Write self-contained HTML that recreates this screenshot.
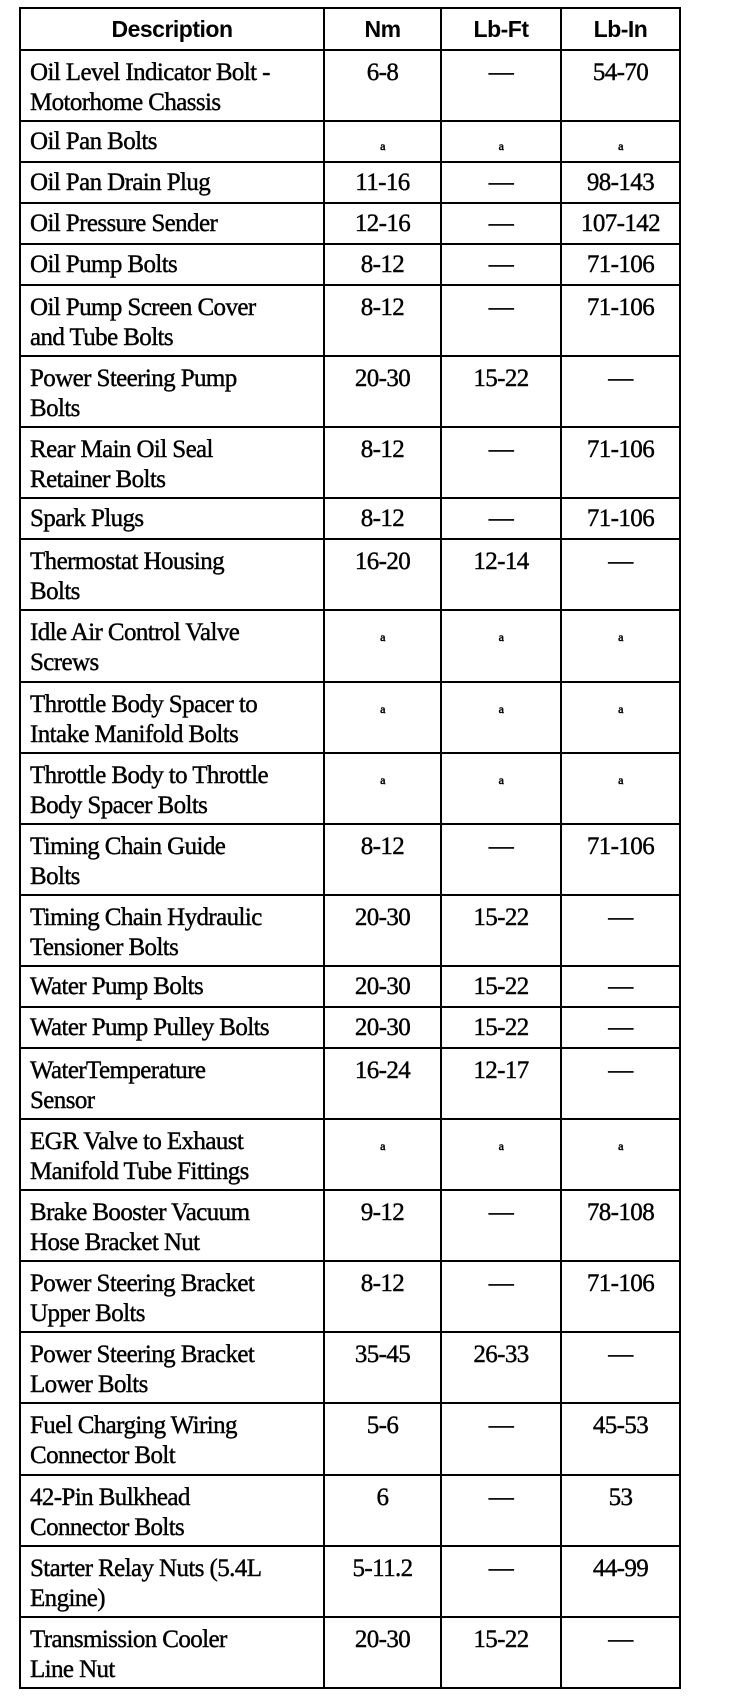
<!DOCTYPE html>
<html><head><meta charset="utf-8"><style>
html,body{margin:0;padding:0;background:#fff;width:736px;height:1698px;overflow:hidden}
table{position:absolute;left:19px;top:7px;width:660px;border-collapse:collapse;table-layout:fixed;border:2.5px solid #000}
td,th{border:2px solid #000;vertical-align:top;padding:7px 0 0 0;color:#000;overflow:hidden;white-space:nowrap}
th{font-family:"Liberation Sans",sans-serif;font-weight:bold;font-size:23px;text-align:center;vertical-align:middle;padding:0;height:40px;letter-spacing:-0.5px}
td{font-family:"Liberation Serif",serif;font-size:25px;line-height:30px;-webkit-text-stroke:0.4px #000;letter-spacing:-0.6px}
td.d{padding-left:9px}
td.n{text-align:center}
tr.s td{height:34px;padding-top:5px}
tr.w td{height:62.1px}
.a{font-size:12px;vertical-align:top;position:relative;top:4px;-webkit-text-stroke:0.5px #000}
</style></head><body>
<table>
<colgroup><col style="width:304px"><col style="width:117px"><col style="width:120px"><col style="width:119px"></colgroup>
<tr><th>Description</th><th>Nm</th><th>Lb-Ft</th><th>Lb-In</th></tr>
<tr class="w"><td class="d">Oil Level Indicator Bolt -<br>Motorhome Chassis</td><td class="n">6-8</td><td class="n">—</td><td class="n">54-70</td></tr>
<tr class="s"><td class="d">Oil Pan Bolts</td><td class="n"><span class="a">a</span></td><td class="n"><span class="a">a</span></td><td class="n"><span class="a">a</span></td></tr>
<tr class="s"><td class="d">Oil Pan Drain Plug</td><td class="n">11-16</td><td class="n">—</td><td class="n">98-143</td></tr>
<tr class="s"><td class="d">Oil Pressure Sender</td><td class="n">12-16</td><td class="n">—</td><td class="n">107-142</td></tr>
<tr class="s"><td class="d">Oil Pump Bolts</td><td class="n">8-12</td><td class="n">—</td><td class="n">71-106</td></tr>
<tr class="w"><td class="d">Oil Pump Screen Cover<br>and Tube Bolts</td><td class="n">8-12</td><td class="n">—</td><td class="n">71-106</td></tr>
<tr class="w"><td class="d">Power Steering Pump<br>Bolts</td><td class="n">20-30</td><td class="n">15-22</td><td class="n">—</td></tr>
<tr class="w"><td class="d">Rear Main Oil Seal<br>Retainer Bolts</td><td class="n">8-12</td><td class="n">—</td><td class="n">71-106</td></tr>
<tr class="s"><td class="d">Spark Plugs</td><td class="n">8-12</td><td class="n">—</td><td class="n">71-106</td></tr>
<tr class="w"><td class="d">Thermostat Housing<br>Bolts</td><td class="n">16-20</td><td class="n">12-14</td><td class="n">—</td></tr>
<tr class="w"><td class="d">Idle Air Control Valve<br>Screws</td><td class="n"><span class="a">a</span></td><td class="n"><span class="a">a</span></td><td class="n"><span class="a">a</span></td></tr>
<tr class="w"><td class="d">Throttle Body Spacer to<br>Intake Manifold Bolts</td><td class="n"><span class="a">a</span></td><td class="n"><span class="a">a</span></td><td class="n"><span class="a">a</span></td></tr>
<tr class="w"><td class="d">Throttle Body to Throttle<br>Body Spacer Bolts</td><td class="n"><span class="a">a</span></td><td class="n"><span class="a">a</span></td><td class="n"><span class="a">a</span></td></tr>
<tr class="w"><td class="d">Timing Chain Guide<br>Bolts</td><td class="n">8-12</td><td class="n">—</td><td class="n">71-106</td></tr>
<tr class="w"><td class="d">Timing Chain Hydraulic<br>Tensioner Bolts</td><td class="n">20-30</td><td class="n">15-22</td><td class="n">—</td></tr>
<tr class="s"><td class="d">Water Pump Bolts</td><td class="n">20-30</td><td class="n">15-22</td><td class="n">—</td></tr>
<tr class="s"><td class="d">Water Pump Pulley Bolts</td><td class="n">20-30</td><td class="n">15-22</td><td class="n">—</td></tr>
<tr class="w"><td class="d">WaterTemperature<br>Sensor</td><td class="n">16-24</td><td class="n">12-17</td><td class="n">—</td></tr>
<tr class="w"><td class="d">EGR Valve to Exhaust<br>Manifold Tube Fittings</td><td class="n"><span class="a">a</span></td><td class="n"><span class="a">a</span></td><td class="n"><span class="a">a</span></td></tr>
<tr class="w"><td class="d">Brake Booster Vacuum<br>Hose Bracket Nut</td><td class="n">9-12</td><td class="n">—</td><td class="n">78-108</td></tr>
<tr class="w"><td class="d">Power Steering Bracket<br>Upper Bolts</td><td class="n">8-12</td><td class="n">—</td><td class="n">71-106</td></tr>
<tr class="w"><td class="d">Power Steering Bracket<br>Lower Bolts</td><td class="n">35-45</td><td class="n">26-33</td><td class="n">—</td></tr>
<tr class="w"><td class="d">Fuel Charging Wiring<br>Connector Bolt</td><td class="n">5-6</td><td class="n">—</td><td class="n">45-53</td></tr>
<tr class="w"><td class="d">42-Pin Bulkhead<br>Connector Bolts</td><td class="n">6</td><td class="n">—</td><td class="n">53</td></tr>
<tr class="w"><td class="d">Starter Relay Nuts (5.4L<br>Engine)</td><td class="n">5-11.2</td><td class="n">—</td><td class="n">44-99</td></tr>
<tr class="w"><td class="d">Transmission Cooler<br>Line Nut</td><td class="n">20-30</td><td class="n">15-22</td><td class="n">—</td></tr>
</table>
</body></html>
